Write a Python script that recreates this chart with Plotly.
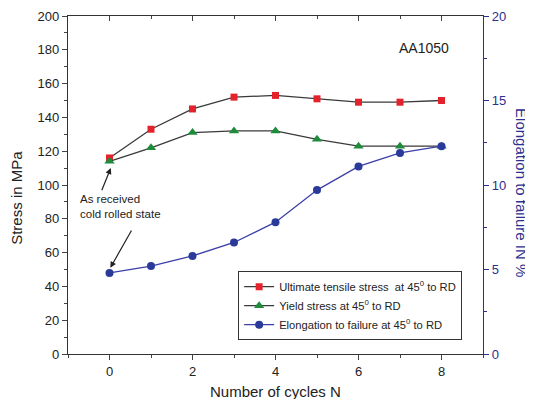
import plotly.graph_objects as go

cycles = [0, 1, 2, 3, 4, 5, 6, 7, 8]
uts = [116, 133, 145, 152, 153, 151, 149, 149, 150]
yield_s = [114, 122, 131, 132, 132, 127, 123, 123, 123]
elong = [4.8, 5.2, 5.8, 6.6, 7.8, 9.7, 11.1, 11.9, 12.3]

NAVY = "#2b2f8f"
FONT = "Liberation Sans, Arial, sans-serif"

fig = go.Figure()
fig.add_trace(go.Scatter(x=cycles, y=uts, mode="lines+markers",
                         name="Ultimate tensile stress  at 45<sup>0</sup> to RD",
                         line=dict(color="#3a3a3a", width=1.3),
                         marker=dict(symbol="square", size=7, color="#e3222b")))
fig.add_trace(go.Scatter(x=cycles, y=yield_s, mode="lines+markers",
                         name="Yield stress at 45<sup>0</sup> to RD",
                         line=dict(color="#3a3a3a", width=1.3),
                         marker=dict(symbol="triangle-up", size=9, color="#1e8c3a")))
fig.add_trace(go.Scatter(x=cycles, y=elong, mode="lines+markers", yaxis="y2",
                         name="Elongation to failure at 45<sup>0</sup> to RD",
                         line=dict(color="#3b3fa8", width=1.3),
                         marker=dict(symbol="circle", size=8, color="#2a3a9a")))
# invisible trace to anchor top axis
fig.add_trace(go.Scatter(x=[cycles[0]], y=[uts[0]], xaxis="x2", mode="markers",
                         marker=dict(opacity=0), showlegend=False, hoverinfo="skip"))

fig.update_layout(
    width=525, height=391,
    margin=dict(l=60, r=50, t=8, b=45),
    paper_bgcolor="white", plot_bgcolor="white",
    font=dict(family=FONT, size=13, color="#222"),
    showlegend=True,
    legend=dict(x=0.41, y=0.041, xanchor="left", yanchor="bottom",
                bgcolor="white", bordercolor="#333", borderwidth=1,
                font=dict(size=11.2, color="#222"), tracegroupgap=0,
                itemwidth=30),
    xaxis=dict(range=[-1, 9], tickvals=[0, 2, 4, 6, 8], ticks="outside", ticklen=5,
               minor=dict(ticks="outside", dtick=1, tick0=0, ticklen=3),
               showline=True, linecolor="#333", linewidth=1.2, showgrid=False,
               zeroline=False, tickfont=dict(size=13), automargin=False),
    xaxis2=dict(range=[-1, 9], overlaying="x", side="top", tickvals=[0, 2, 4, 6, 8],
                ticks="inside", ticklen=5, showticklabels=False, automargin=False,
                minor=dict(ticks="inside", dtick=1, tick0=0, ticklen=3),
                showline=True, linecolor="#333", linewidth=1.2, showgrid=False,
                zeroline=False),
    yaxis=dict(range=[0, 200], dtick=20, ticks="outside", ticklen=5,
               minor=dict(ticks="outside", dtick=10, ticklen=3),
               showline=True, linecolor="#333", linewidth=1.2, showgrid=False,
               zeroline=False, tickfont=dict(size=13), automargin=False),
    yaxis2=dict(range=[0, 20], dtick=5, overlaying="y", side="right",
                ticks="outside", ticklen=5, tickcolor=NAVY, automargin=False,
                minor=dict(ticks="outside", dtick=2.5, ticklen=3, tickcolor=NAVY),
                showline=True, linecolor=NAVY, linewidth=1.2, showgrid=False,
                zeroline=False, tickfont=dict(size=13, color=NAVY)),
)

# axis titles
fig.add_annotation(x=-0.123, y=0.462, xref="paper", yref="paper",
                   text="Stress in MPa", textangle=-90, showarrow=False,
                   font=dict(size=15, color="#222"), xanchor="center", yanchor="middle")
fig.add_annotation(x=0.5, y=-0.112, xref="paper", yref="paper",
                   text="Number of cycles N", showarrow=False,
                   font=dict(size=15, color="#222"), xanchor="center", yanchor="middle")
fig.add_annotation(x=1.094, y=0.479, xref="paper", yref="paper",
                   text="Elongation to failure IN %", textangle=90, showarrow=False,
                   font=dict(size=15, color=NAVY), xanchor="center", yanchor="middle")

fig.add_annotation(x=7.57, y=181, xref="x", yref="y", text="AA1050", showarrow=False,
                   font=dict(size=14, color="#222"), xanchor="center", yanchor="middle")
fig.add_annotation(x=-0.75, y=87, xref="x", yref="y",
                   text="As received<br>cold rolled state", showarrow=False, align="left",
                   xanchor="left", yanchor="middle", font=dict(size=11.5, color="#222"))
fig.add_annotation(x=0.03, y=110, ax=-0.2, ay=96, xref="x", yref="y", axref="x", ayref="y",
                   text="", showarrow=True, arrowhead=2, arrowsize=1, arrowwidth=1.2,
                   arrowcolor="#222")
fig.add_annotation(x=0.02, y=51, ax=0.55, ay=74, xref="x", yref="y", axref="x", ayref="y",
                   text="", showarrow=True, arrowhead=2, arrowsize=1, arrowwidth=1.2,
                   arrowcolor="#222")

fig.write_html("out.html")
